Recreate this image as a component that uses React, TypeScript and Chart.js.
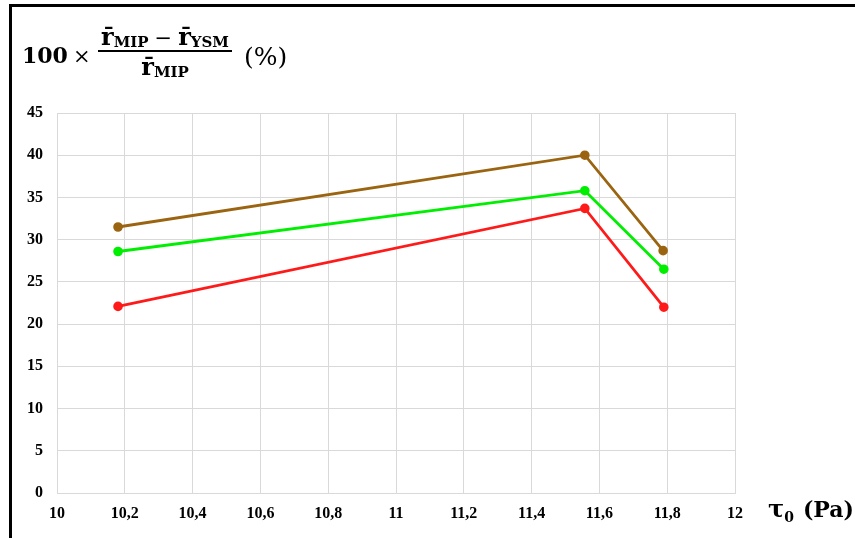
import React, { useEffect, useRef } from "react";
import { Chart, registerables } from "chart.js";

Chart.register(...registerables);

const xBrown = [10.18, 11.557, 11.788];
const yBrown = [31.5, 40.0, 28.7];
const xGreen = [10.18, 11.557, 11.79];
const yGreen = [28.6, 35.8, 26.5];
const xRed = [10.18, 11.557, 11.79];
const yRed = [22.1, 33.7, 22.0];

const xTickLabels = ["10", "10,2", "10,4", "10,6", "10,8", "11", "11,2", "11,4", "11,6", "11,8", "12"];
const yTickLabels = ["0", "5", "10", "15", "20", "25", "30", "35", "40", "45"];

const seriesColors = ["#9a6410", "#00ee00", "#ff1a1a"];

function pts(xs: number[], ys: number[]) {
  return xs.map((x, i) => ({ x, y: ys[i] }));
}

const serif = '"DejaVu Serif", serif';

function RBar({ sub, size = 24, subSize = 15 }: { sub: string; size?: number; subSize?: number }) {
  return (
    <>
      <span style={{ fontWeight: 700, fontSize: size, lineHeight: 1 }}>r̄</span>
      <span style={{ fontWeight: 700, fontSize: subSize, lineHeight: 1, position: "relative", top: 2 }}>{sub}</span>
    </>
  );
}

export default function App() {
  const ref = useRef<HTMLCanvasElement | null>(null);
  useEffect(() => {
    if (!ref.current) return;
    const tickFont = { family: '"Liberation Serif", serif', size: 16, weight: "bold" as const };
    const mk = (label: string, data: any, color: string) => ({
      label,
      data,
      borderColor: color,
      backgroundColor: color,
      borderWidth: 2.8,
      pointRadius: 3.4,
      pointHoverRadius: 3.4,
      showLine: true,
      tension: 0,
    });
    const chart = new Chart(ref.current, {
      type: "scatter",
      data: {
        datasets: [
          mk("brown", pts(xBrown, yBrown), seriesColors[0]),
          mk("green", pts(xGreen, yGreen), seriesColors[1]),
          mk("red", pts(xRed, yRed), seriesColors[2]),
        ],
      },
      options: {
        responsive: false,
        animation: false,
        layout: { padding: { left: 12, right: 120, top: 113, bottom: 0 } },
        plugins: { legend: { display: false }, tooltip: { enabled: false } },
        scales: {
          x: {
            type: "linear",
            min: 10,
            max: 12,
            afterFit: (s: any) => {
              s.height = 45;
            },
            afterBuildTicks: (s: any) => {
              s.ticks = xTickLabels.map((_, i) => ({ value: 10 + i * 0.2 }));
            },
            ticks: {
              font: tickFont,
              color: "#000",
              padding: 11,
              maxRotation: 0,
              autoSkip: false,
              callback: (_v: any, i: number) => xTickLabels[i],
            },
            grid: { color: "#d9d9d9", lineWidth: 1, drawTicks: false },
            border: { color: "#d9d9d9", width: 1 },
          },
          y: {
            min: 0,
            max: 45,
            afterFit: (s: any) => {
              s.width = 45;
            },
            afterBuildTicks: (s: any) => {
              s.ticks = yTickLabels.map((_, i) => ({ value: i * 5 }));
            },
            ticks: {
              font: tickFont,
              color: "#000",
              padding: 14,
              autoSkip: false,
              callback: (_v: any, i: number) => yTickLabels[i],
            },
            grid: { color: "#d9d9d9", lineWidth: 1, drawTicks: false },
            border: { color: "#d9d9d9", width: 1 },
          },
        },
      },
    });
    return () => chart.destroy();
  }, []);

  return (
    <div style={{ position: "absolute", left: 0, top: 0, width: 855, height: 538, background: "#fff", overflow: "hidden" }}>
      <canvas ref={ref} width={855} height={538} style={{ position: "absolute", left: 0, top: 0 }} />
      <div
        style={{
          position: "absolute",
          left: 9,
          top: 4,
          width: 846,
          height: 534,
          borderTop: "3px solid #000",
          borderLeft: "3px solid #000",
          boxSizing: "border-box",
          pointerEvents: "none",
        }}
      />
      {/* y title formula */}
      <div style={{ position: "absolute", left: 22, top: 44, fontFamily: serif, color: "#000", whiteSpace: "nowrap", display: "flex", alignItems: "baseline" }}>
        <span style={{ fontWeight: 700, fontSize: 22, lineHeight: 1 }}>100</span>
        <span style={{ fontSize: 21, lineHeight: 1, marginLeft: 5 }}>×</span>
      </div>
      <div style={{ position: "absolute", left: 98, top: 25, width: 134, display: "flex", justifyContent: "center", alignItems: "baseline", fontFamily: serif, color: "#000", whiteSpace: "nowrap" }}>
        <RBar sub="MIP" />
        <span style={{ fontSize: 21, lineHeight: 1, margin: "0 6px" }}>−</span>
        <RBar sub="YSM" />
      </div>
      <div style={{ position: "absolute", left: 98, top: 50, width: 134, height: 2, background: "#000" }} />
      <div style={{ position: "absolute", left: 98, top: 55, width: 134, display: "flex", justifyContent: "center", alignItems: "baseline", fontFamily: serif, color: "#000", whiteSpace: "nowrap" }}>
        <RBar sub="MIP" />
      </div>
      <div style={{ position: "absolute", left: 244, top: 44, fontFamily: serif, color: "#000", fontSize: 25, lineHeight: 1, whiteSpace: "nowrap" }}>(%)</div>
      {/* x title */}
      <div style={{ position: "absolute", left: 768, top: 497, display: "flex", alignItems: "baseline", fontFamily: serif, color: "#000", whiteSpace: "nowrap" }}>
        <span style={{ fontWeight: 700, fontSize: 24, lineHeight: 1 }}>τ</span>
        <span style={{ fontWeight: 700, fontSize: 14, lineHeight: 1, position: "relative", top: 5 }}>0</span>
        <span style={{ fontWeight: 700, fontSize: 22, lineHeight: 1, marginLeft: 9 }}>(Pa)</span>
      </div>
    </div>
  );
}
